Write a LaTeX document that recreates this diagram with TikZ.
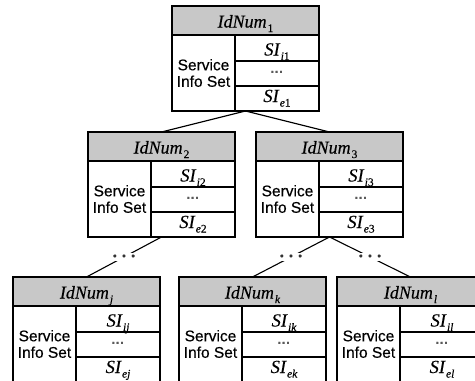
\documentclass[tikz,border=0pt]{standalone}
\usepackage{fontspec}
\setmainfont{Liberation Serif}[FakeBold=0.25]
\newfontfamily\sansf{Liberation Sans}[FakeBold=0.45]
\definecolor{hdrgray}{RGB}{200,200,200}
\newcommand\mysub[1]{\kern1pt\raisebox{-4.5pt}{\fontsize{11.5}{11.5}\selectfont #1}}
\tikzset{
  frame/.style={draw=black, line width=1.1pt, inner sep=0pt, outer sep=0pt},
  hdrbox/.style={frame, fill=hdrgray, minimum width=147pt, minimum height=29pt},
  leftbox/.style={frame, minimum width=63pt, minimum height=76pt},
  rowbox/.style={frame, minimum width=84pt},
  hdrtext/.style={anchor=base, inner sep=0pt, font=\fontsize{18}{18}\selectfont\itshape},
  sitext/.style={anchor=base, inner sep=0pt, font=\fontsize{18.5}{18.5}\selectfont\itshape},
  svctext/.style={align=center, inner sep=0pt, font=\sansf\fontsize{15.5}{16.5}\selectfont},
  celldots/.style={inner sep=0pt, font=\sansf\bfseries\fontsize{13}{13}\selectfont, text=black!65},
  linkdots/.style={fill=white, inner sep=1.2pt, font=\sansf\fontsize{10.5}{10.5}\selectfont, text=black!80},
  link/.style={draw=black, line width=1.1pt}
}
\newcommand\infobox[6]{%
\begin{scope}[shift={(#2,#3)}]
  \node[hdrbox, anchor=north west] (#1-h) at (0,0) {};
  \node[hdrtext] (#1-ht) at (73.5,21.5) {IdNum\mysub{#4}};
  \node[leftbox, anchor=north west] (#1-l) at (0,29) {};
  \node[svctext] (#1-lt) at (31.5,67) {Service\\Info Set};
  \node[rowbox, minimum height=26pt, anchor=north west] (#1-r1) at (63,29) {};
  \node[rowbox, minimum height=25pt, anchor=north west] (#1-r2) at (63,55) {};
  \node[rowbox, minimum height=25pt, anchor=north west] (#1-r3) at (63,80) {};
  \node[sitext] (#1-t1) at (105,49.5) {SI\mysub{#5}};
  \node[celldots] (#1-t2) at (105,67.5) {···};
  \node[sitext] (#1-t3) at (105,96) {SI\mysub{#6}};
  \coordinate (#1-top) at (73.5,0);
  \coordinate (#1-bot) at (73.5,105);
\end{scope}}
\begin{document}
\begin{tikzpicture}[x=1pt,y=-1pt]
\useasboundingbox (0,0) rectangle (475,381);
\clip (0,0) rectangle (475,380.5);
\infobox{b1}{172}{6}{\textup{1}}{i\textup{1}}{e\textup{1}}
\infobox{b2}{88}{132}{\textup{2}}{i\textup{2}}{e\textup{2}}
\infobox{b3}{256}{132}{\textup{3}}{i\textup{3}}{e\textup{3}}
\infobox{bj}{13}{277}{j}{ij}{ej}
\infobox{bk}{179}{277}{k}{ik}{ek}
\infobox{bl}{337}{277}{l}{il}{el}
\draw[link] (b1-bot) -- (b2-top);
\draw[link] (b1-bot) -- (b3-top);
\draw[link] (b2-bot) -- (bj-top) node[linkdots, pos=0.5] (d1) {•\kern5.5pt•\kern5.5pt•};
\draw[link] (b3-bot) -- (bk-top) node[linkdots, pos=0.5] (d2) {•\kern5.5pt•\kern5.5pt•};
\draw[link] (b3-bot) -- (bl-top) node[linkdots, pos=0.5] (d3) {•\kern5.5pt•\kern5.5pt•};
\end{tikzpicture}
\end{document}
